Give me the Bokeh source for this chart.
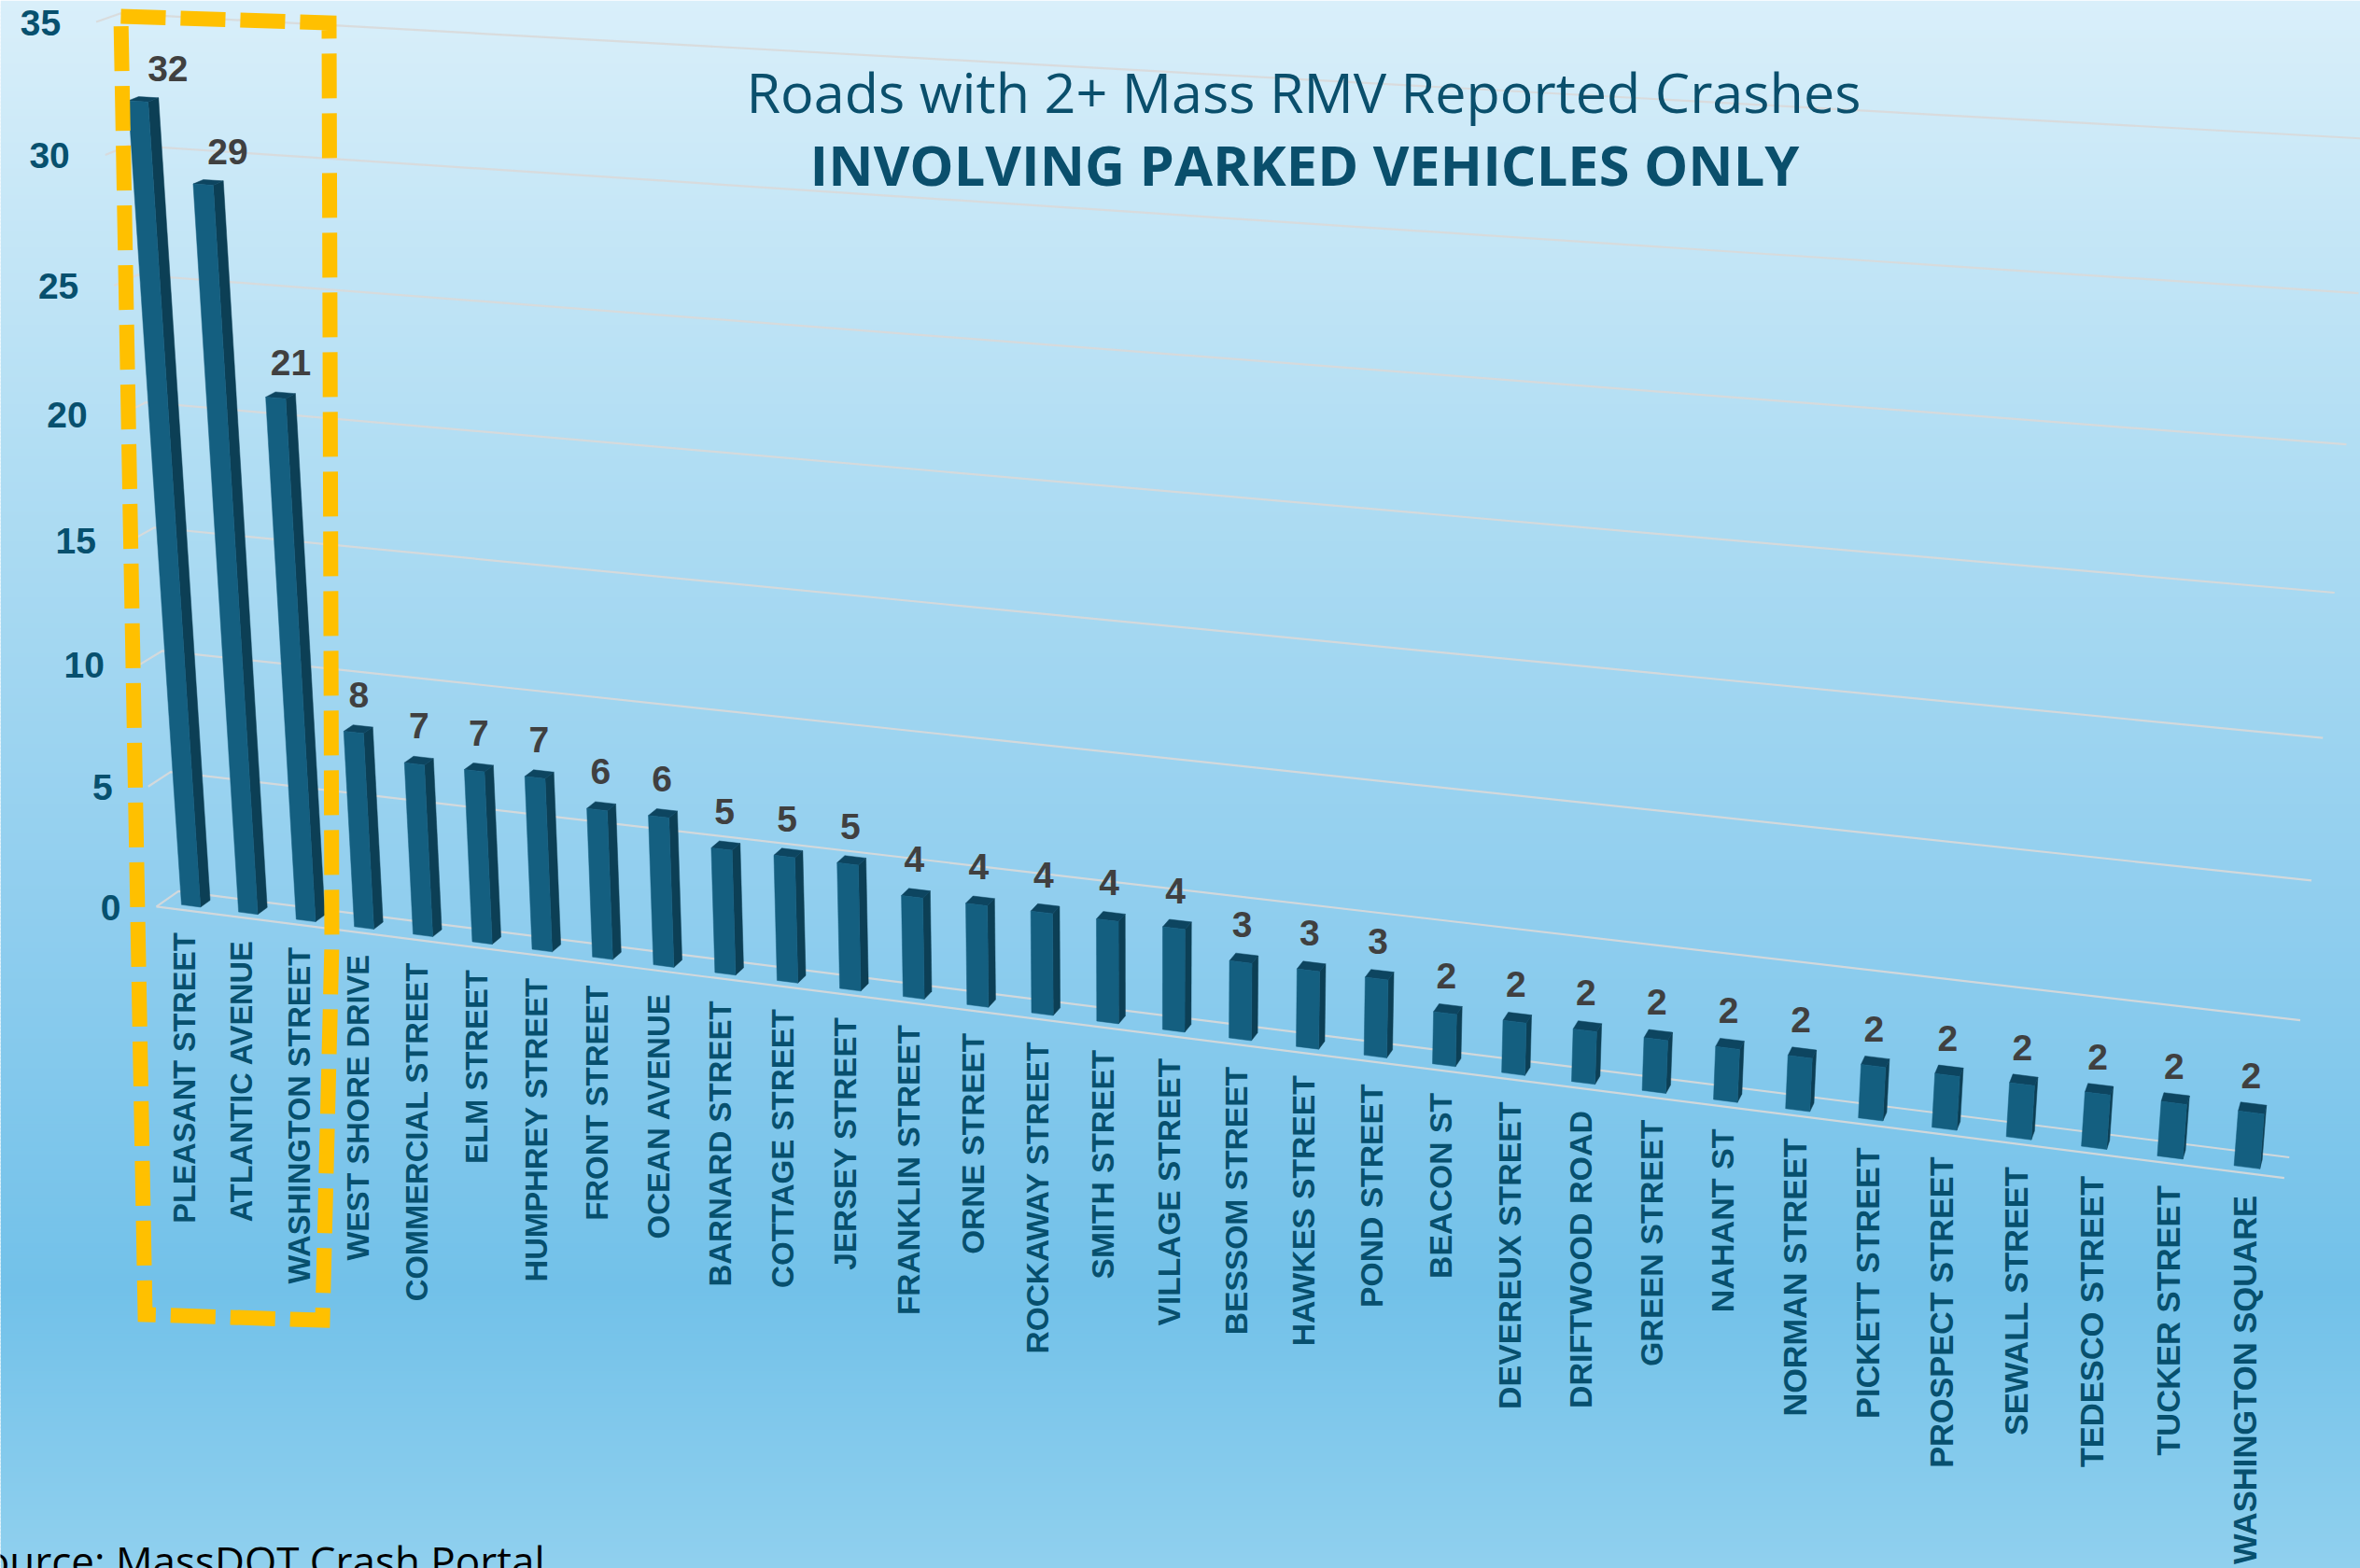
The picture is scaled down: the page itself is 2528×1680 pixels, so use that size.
import numpy as np
from bokeh.plotting import figure
from bokeh.models import Range1d, ColumnDataSource
from bokeh.core.properties import value
from bokeh.embed import file_html
from bokeh.resources import INLINE

roads = ["PLEASANT STREET","ATLANTIC AVENUE","WASHINGTON STREET","WEST SHORE DRIVE","COMMERCIAL STREET",
         "ELM STREET","HUMPHREY STREET","FRONT STREET","OCEAN AVENUE","BARNARD STREET","COTTAGE STREET",
         "JERSEY STREET","FRANKLIN STREET","ORNE STREET","ROCKAWAY STREET","SMITH STREET","VILLAGE STREET",
         "BESSOM STREET","HAWKES STREET","POND STREET","BEACON ST","DEVEREUX STREET","DRIFTWOOD ROAD",
         "GREEN STREET","NAHANT ST","NORMAN STREET","PICKETT STREET","PROSPECT STREET","SEWALL STREET",
         "TEDESCO STREET","TUCKER STREET","WASHINGTON SQUARE"]
crashes = [32,29,21,8,7,7,7,6,6,5,5,5,4,4,4,4,4,3,3,3,2,2,2,2,2,2,2,2,2,2,2,2]
y_ticks = [0,5,10,15,20,25,30,35]
title_1 = "Roads with 2+ Mass RMV Reported Crashes"
title_2 = "INVOLVING PARKED VEHICLES ONLY"
source_note = "Source: MassDOT Crash Portal"

N = len(roads)
VMAX = 35

# Perspective camera, calibrated from (category, value, depth) -> screen px
calib = [((0,0,0),(166,970)),((N,0,0),(2448,1264.5)),((0,0,1),(195,954)),((N,0,1),(2456,1240.7)),
         ((0,VMAX,0),(103,26)),((0,VMAX,1),(129,18)),((N,VMAX,1),(2546,148)),((N,VMAX,0),(2539,160)),
         ((16,0,0),(1227,1107)),((0,20,1),(165,430)),((N,20,1),(2505,630)),((0,20,0),(145,437))]
rows = []
for (u,v,d),(x,y) in calib:
    U,V,D,X,Y = u/N, v/VMAX, d, x/1000, y/1000
    rows.append([U,V,D,1,0,0,0,0,-X*U,-X*V,-X*D,-X])
    rows.append([0,0,0,0,U,V,D,1,-Y*U,-Y*V,-Y*D,-Y])
M = np.linalg.svd(np.array(rows))[2][-1].reshape(3,4)
OFFSET_X = -5

def P(u, v, d):
    h = M @ np.array([u/N, v/VMAX, d, 1.0])
    return float(h[0]/h[2]*1000) + OFFSET_X, float(h[1]/h[2]*1000)

p = figure(width=2528, height=1680, output_backend="svg", toolbar_location=None,
           x_range=Range1d(0, 2528), y_range=Range1d(1680, 0), min_border=0)
p.axis.visible = False
p.grid.visible = False
p.outline_line_color = None

# background gradient
stops_y = [0, 500, 1000, 1380, 1680]
stops_c = [(217,239,250),(176,221,243),(142,205,238),(114,193,233),(144,208,238)]
ys = np.arange(0, 1680, 4)
cols = ["#%02x%02x%02x" % tuple(int(round(np.interp(y+2, stops_y, [c[k] for c in stops_c]))) for k in range(3)) for y in ys]
p.quad(left=0, right=2528, top=ys, bottom=ys+6, fill_color=cols, line_color=None)

# gridlines: side wall and back wall
gx, gy = [], []
for t in y_ticks:
    a, b, c = P(0,t,0), P(0,t,1), P(N,t,1)
    gx.append([a[0],b[0],c[0]]); gy.append([a[1],b[1],c[1]])
a, b = P(0,0,0), P(N,0,0)
gx.append([a[0],b[0]]); gy.append([a[1],b[1]])
p.multi_line(gx, gy, line_color="#d9d9d9", line_width=2.2, line_alpha=0.9)

# title
p.text([1396],[97],text=[title_1],text_font=value("Open Sans"),text_font_size="59.3px",
       text_color="#0a4f6c",text_align="center",text_baseline="middle")
p.text([1397],[175],text=[title_2],text_font=value("Open Sans"),text_font_style="bold",text_font_size="59.5px",
       text_color="#0a4f6c",text_align="center",text_baseline="middle")

# bars
GAP = 1/3
D0, D1 = 0.28, 0.72
front, side, top = ([],[]), ([],[]), ([],[])
def add(store, pts):
    store[0].append([q[0] for q in pts]); store[1].append([q[1] for q in pts])
for i, val in enumerate(crashes):
    u0, u1 = i+GAP, i+1-GAP
    add(side,[P(u1,0,D0),P(u1,0,D1),P(u1,val,D1),P(u1,val,D0)])
    add(top,[P(u0,val,D0),P(u1,val,D0),P(u1,val,D1),P(u0,val,D1)])
    add(front,[P(u0,0,D0),P(u1,0,D0),P(u1,val,D0),P(u0,val,D0)])
p.patches(side[0],side[1],fill_color="#0c3f55",line_color="#0c3f55",line_width=0.5)
p.patches(top[0],top[1],fill_color="#0d4560",line_color="#0d4560",line_width=0.5)
p.patches(front[0],front[1],fill_color="#145f80",line_color="#145f80",line_width=0.5)

# data labels
lx, ly = [], []
for i, val in enumerate(crashes):
    tx, ty = P(i+.5,val,0.5)
    bx, by = P(i+.5,0,0.5)
    lx.append(tx+(0.28+0.25*val/32)*(bx-tx)-3.5*(1-i/(N-1)))
    ly.append(ty-(39-6*val/32-4*i/(N-1)))
p.text(lx,ly,text=[str(v) for v in crashes],text_font=value("Liberation Sans"),text_font_style="bold",
       text_font_size="39px",text_color="#404040",text_align="center",text_baseline="middle")

# category labels
cx, cy, cf = [], [], []
for i in range(N):
    fx, fy = P(i+.5,0,0)
    cx.append(fx); cy.append(fy+24); cf.append("%.1fpx" % (32.4+2.2*i/(N-1)))
cat_src = ColumnDataSource(dict(x=cx,y=cy,text=roads,fs=cf))
p.text("x","y",text="text",source=cat_src,angle=np.pi/2,text_font=value("Liberation Sans"),text_font_style="bold",
       text_font_size="fs",text_color="#07506e",text_align="right",text_baseline="middle")

# value-axis labels
vx, vy = [], []
for t in y_ticks:
    fx, fy = P(0,t,0)
    vx.append(fx-38); vy.append(fy+1)
p.text(vx,vy,text=[str(t) for t in y_ticks],text_font=value("Liberation Sans"),text_font_style="bold",
       text_font_size="39px",text_color="#07506e",text_align="right",text_baseline="middle")

# highlight box
box_x = [129,352,355,345,155,129]
box_y = [17,24,1010,1414,1408,17]
p.line(box_x,box_y,line_color="#ffc000",line_width=16,line_dash="48 16",line_join="miter",line_cap="butt")

# source note
p.text([583],[1671],text=[source_note],text_font=value("Open Sans"),text_font_size="44px",
       text_color="#000000",text_align="right",text_baseline="middle")

open("out.html","w").write(file_html(p, INLINE))
